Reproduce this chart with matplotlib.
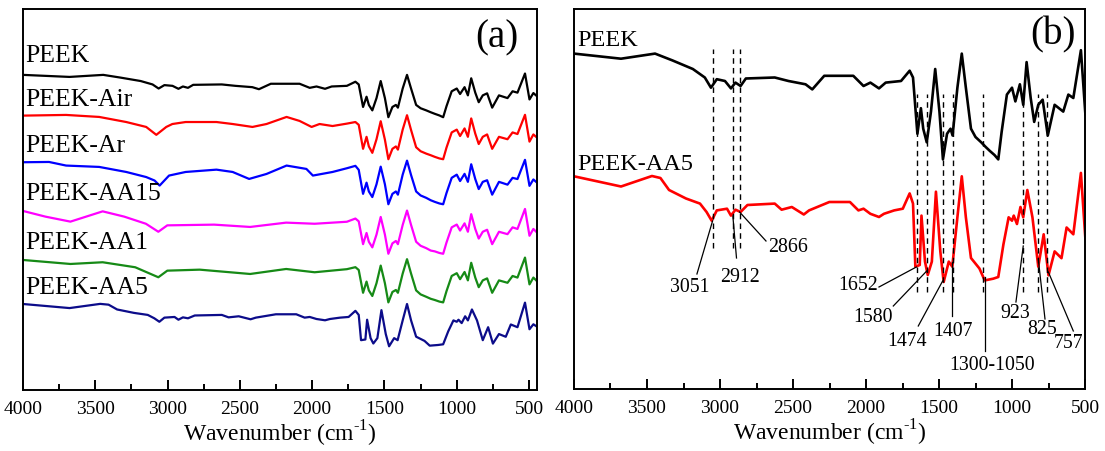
import matplotlib
matplotlib.use("Agg")
import matplotlib.pyplot as plt
from matplotlib.ticker import MultipleLocator

plt.rcParams['font.family'] = ['Liberation Serif', 'DejaVu Serif']
plt.rcParams['mathtext.fontset'] = 'custom'
plt.rcParams['mathtext.rm'] = 'Liberation Serif'

# FTIR spectra (transmittance, a.u.)
# high-wavenumber part, one grid per sample
wn_peek_hi = [4000, 3678, 3445, 3326, 3186, 3104, 3062, 3022, 2966, 2925, 2894, 2859, 2823,
              2625, 2531, 2414, 2368, 2286, 2087, 2017, 1970, 1911, 1865, 1760]
t_peek_hi = [345.4, 340.3, 345.4, 338.6, 330, 321.5, 311.3, 319.8, 318, 310.6, 316.4, 313, 320.5,
             321.5, 318, 314.7, 309.6, 323.2, 323.2, 313, 316.4, 310.6, 316.4, 318]

wn_air_hi = [4000, 3702, 3473, 3286, 3148, 3078, 3009, 2967, 2875, 2662, 2550, 2413, 2316,
             2177, 2087, 2004, 1949, 1859, 1760]
t_air_hi = [345, 346.7, 341.7, 329, 316.7, 297, 316.7, 324, 329, 329, 324, 316.7, 324,
            341.7, 331.7, 316.7, 324, 319, 325]

wn_ar_hi = [4000, 3820, 3702, 3473, 3286, 3148, 3090, 3055, 2990, 2875, 2662, 2550, 2436,
            2316, 2177, 2040, 1995, 1859, 1760]
t_ar_hi = [345, 345.7, 336.7, 333.3, 320.7, 308, 299.3, 286.7, 311.7, 320.7, 326.5, 320.7, 303.3,
           315.7, 336.7, 328.3, 311.7, 320.7, 330]

wn_aa15_hi = [4000, 3845, 3672, 3449, 3300, 3150, 3064, 3002, 2678, 2429, 2180, 1983, 1760]
t_aa15_hi = [345, 330.8, 318.3, 344, 330.8, 313, 293, 309, 310.8, 305, 315.8, 313, 318]

wn_aa1_hi = [4000, 3672, 3449, 3224, 3064, 3002, 2778, 2429, 2180, 1983, 1760]
t_aa1_hi = [345, 335, 339.3, 326.8, 301.8, 318.3, 320.8, 310, 322.5, 314.3, 322]

# fingerprint part (1700-445 cm-1)
wn_fp = [1701, 1678, 1648, 1624, 1608, 1584, 1555, 1526, 1497, 1473, 1445, 1421, 1407, 1374,
         1344, 1316, 1281, 1250, 1211, 1180, 1152, 1120, 1094, 1071, 1035, 1000, 977, 946,
         923, 900, 872, 848, 820, 790, 755, 708, 649, 614, 580, 528, 497, 470, 445]
t_peek_fp = [328.3, 321.5, 265.2, 290.8, 270.3, 256.7, 287.4, 330, 287.4, 239.6, 265.2, 270.3,
             263.5, 311.3, 345.4, 311.3, 270.3, 262, 256.7, 252, 248.1, 244, 239.6, 267, 304.4,
             311.3, 297.6, 314.7, 294.2, 336.9, 301, 277.1, 294.2, 299.3, 263.5, 294.2, 287.4,
             304.4, 301, 348.8, 284, 300, 292]
t_air_fp = [329, 322, 262, 292, 268, 252, 286, 331, 285, 236, 262, 268, 260, 310, 346, 309,
            266, 256, 250, 246, 242, 238, 236, 265, 303, 310, 294, 313, 292, 338, 300, 274,
            292, 298, 262, 292, 286, 303, 299, 347, 280, 298, 290]
t_ar_fp = [336, 326, 266, 294, 272, 258, 290, 334, 290, 240, 266, 272, 264, 314, 349, 313,
           272, 262, 256, 250, 246, 242, 240, 268, 306, 314, 298, 316, 296, 340, 303, 278,
           296, 300, 264, 296, 289, 306, 303, 351, 286, 302, 294]
t_aa15_fp = [326, 319, 262, 290, 268, 254, 286, 330, 286, 238, 264, 270, 262, 310, 346, 310,
             268, 258, 252, 246, 244, 240, 238, 266, 304, 311, 296, 314, 293, 337, 300, 276,
             293, 298, 262, 293, 287, 304, 300, 350, 283, 300, 291]
t_aa1_fp = [327, 320, 263, 291, 269, 255, 287, 331, 287, 239, 265, 270, 263, 311, 347, 311,
            269, 259, 253, 248, 245, 241, 239, 267, 305, 312, 297, 315, 294, 338, 301, 277,
            294, 299, 263, 294, 288, 305, 301, 351, 284, 301, 292]

# PEEK-AA5, whole range
wn_aa5 = [4000, 3678, 3466, 3408, 3349, 3233, 3137, 3092, 3057, 3022, 2952, 2925, 2894, 2859,
          2812, 2625, 2578, 2508, 2426, 2390, 2251, 2110, 2052, 2017, 1970, 1911, 1877, 1807,
          1748, 1701, 1678, 1662, 1632, 1620, 1596, 1577, 1549, 1521, 1491, 1468, 1433, 1409,
          1374, 1344, 1316, 1281, 1223, 1187, 1129, 1094, 1059, 1023, 1000, 988, 966, 942,
          923, 895, 860, 820, 783, 750, 708, 661, 626, 580, 528, 497, 470, 445]
t_aa5 = [222.7, 212.5, 223, 221, 209, 200.5, 195.4, 187, 178.3, 188.6, 190.3, 183.4, 189.3, 187,
         194, 195.4, 189.3, 192, 184.5, 188.6, 197, 197, 188.6, 190.3, 185.2, 182, 185.2, 188.6,
         190.3, 205.6, 195.4, 132.3, 134, 183.4, 137.4, 124, 137.4, 207.3, 147.6, 117, 137.4, 132.3,
         181.7, 222.7, 181.7, 141, 130.5, 118.6, 120.3, 122, 154.4, 181.7, 178.3, 183.4, 175, 192,
         181.7, 209, 181.7, 132.3, 164.7, 123.7, 147.6, 140.8, 171.5, 164.7, 226.1, 159.6, 172, 166]

names_a = ['PEEK', 'PEEK-Air', 'PEEK-Ar', 'PEEK-AA15', 'PEEK-AA1', 'PEEK-AA5']
colors_a = ['black', '#ff0000', '#0000ff', '#ff00ff', '#168a16', '#0c0c8a']

# marked bands in (b)
band_hi = [3051, 2912, 2866]
band_fp = [1652, 1580, 1474, 1407, 1200, 923, 825, 757]

series_a = [
    (wn_peek_hi + wn_fp, t_peek_hi + t_peek_fp),
    (wn_air_hi + wn_fp, t_air_hi + t_air_fp),
    (wn_ar_hi + wn_fp, t_ar_hi + t_ar_fp),
    (wn_aa15_hi + wn_fp, t_aa15_hi + t_aa15_fp),
    (wn_aa1_hi + wn_fp, t_aa1_hi + t_aa1_fp),
    (wn_aa5, t_aa5),
]
offsets_a = [0, -101.4, -217.9, -339.6, -462.1, -449.8]
label_y_a = [395, 285, 170, 50, -72, -185]

fig = plt.figure(figsize=(11.05, 4.52), dpi=100)
ax1 = fig.add_axes([23/1105, 1-391/452, 514/1105, 381/452])
ax2 = fig.add_axes([574/1105, 1-390/452, 511/1105, 380/452])

for (w, t), off, c, name, ly in zip(series_a, offsets_a, colors_a, names_a, label_y_a):
    ax1.plot(w, [v + off for v in t], color=c, lw=1.6)
    ax1.text(3982, ly, name, fontsize=18.5, ha='left', va='center')

ax1.set_xlim(4000, 445)
ax1.set_ylim(-442, 510)
ax1.text(720, 440, '(a)', fontsize=28, ha='center', va='center')

# (b)
peek_w = wn_peek_hi + wn_fp
peek_t = t_peek_hi + t_peek_fp
ax2.plot(peek_w, peek_t, color='black', lw=1.9)
ax2.plot(wn_aa5, t_aa5, color='#ff0000', lw=1.9)
ax2.text(3979, 359, 'PEEK', fontsize=17.5, ha='left', va='center')
ax2.text(3979, 235, 'PEEK-AA5', fontsize=17.5, ha='left', va='center')
ax2.text(722, 365, '(b)', fontsize=28, ha='center', va='center')

for b in band_hi:
    ax2.plot([b, b], [151, 350], color='black', lw=1.0, ls=(0, (4, 3)))
for b in band_fp:
    ax2.plot([b, b], [107, 305], color='black', lw=1.0, ls=(0, (4, 3)))

# leader lines: (start wn, start t, end wn, end t, label, label wn, label t)
leaders = [
    (3051, 178, 3158, 125, '3051', 3209, 113),
    (2912, 183, 2887, 141, '2912', 2866, 123),
    (2866, 187, 2685, 158, '2866', 2531, 152),
    (1655, 132, 1911, 112, '1652', 2057, 114),
    (1584, 128, 1813, 93, '1580', 1952, 82),
    (1475, 118, 1642, 73, '1474', 1721, 58),
    (1413, 137, 1413, 83, '1407', 1404, 69),
    (1185, 122, 1185, 48, '1300-1050', 1139, 35),
    (923, 153, 973, 97, '923', 979, 87),
    (820, 140, 774, 80, '825', 797, 71),
    (751, 127, 580, 68, '757', 614, 57),
]
for x0, y0, x1, y1, txt, tx, ty in leaders:
    ax2.plot([x0, x1], [y0, y1], color='black', lw=0.9)
    ax2.text(tx, ty, txt, fontsize=14.3, ha='center', va='center')

ax2.set_xlim(4000, 500)
ax2.set_ylim(10, 390)

for ax in (ax1, ax2):
    ax.set_xticks(range(4000, 499, -500))
    ax.xaxis.set_minor_locator(MultipleLocator(250))
    ax.set_yticks([])
    ax.tick_params(axis='x', which='major', direction='in', length=7, width=1.4,
                   labelsize=14, pad=7)
    ax.tick_params(axis='x', which='minor', direction='in', length=4, width=1.4)
    for s in ax.spines.values():
        s.set_linewidth(1.4)
    ax.set_xlabel(r'Wavenumber (cm$^{\text{-}1}$)', fontsize=17, labelpad=1)

fig.savefig('out.png', dpi=100)
